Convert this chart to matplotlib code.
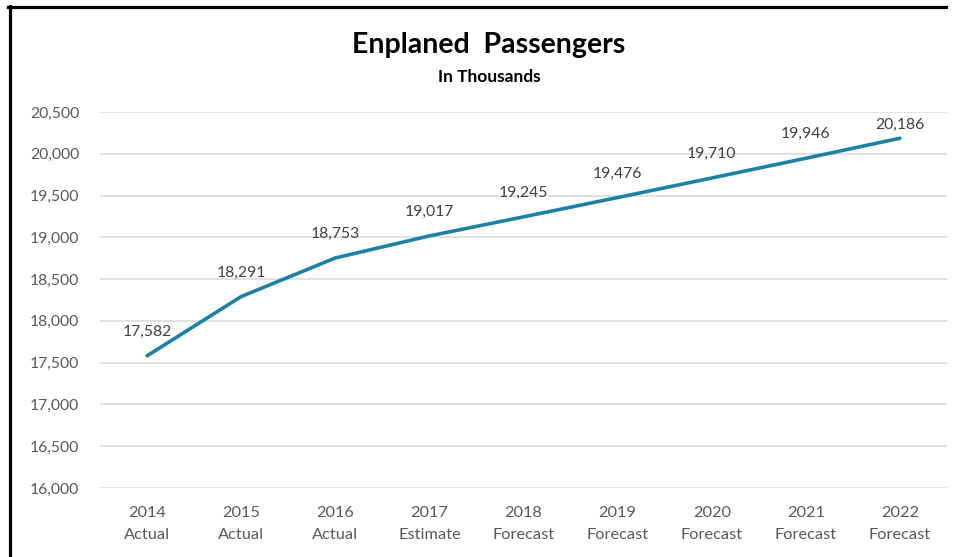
import matplotlib
matplotlib.use("Agg")
import matplotlib.pyplot as plt
from matplotlib.lines import Line2D

years = ["2014", "2015", "2016", "2017", "2018", "2019", "2020", "2021", "2022"]
kinds = ["Actual", "Actual", "Actual", "Estimate", "Forecast", "Forecast", "Forecast", "Forecast", "Forecast"]
passengers = [17582, 18291, 18753, 19017, 19245, 19476, 19710, 19946, 20186]
y_ticks = [16000, 16500, 17000, 17500, 18000, 18500, 19000, 19500, 20000, 20500]

plt.rcParams['font.family'] = ['Lato', 'DejaVu Sans']

W, H = 956, 557
fig = plt.figure(figsize=(W / 100, H / 100), dpi=100)
ax = fig.add_axes([100 / W, 1 - 488 / H, 847 / W, 376 / H])

x = list(range(len(years)))
ax.plot(x, passengers, color='#1B82A6', lw=2.6, solid_capstyle='round', zorder=3)

px_per_unit = 376 / 4500
offset = 24 / px_per_unit
top_cap = 20500 - 13 / px_per_unit
for xi, v in zip(x, passengers):
    ly = min(v + offset, top_cap)
    ax.text(xi, ly, f"{v:,}", ha='center', va='center', fontsize=11.3, color='#404040')

ax.set_xlim(-0.5, len(years) - 0.5)
ax.set_ylim(16000, 20500)
ax.set_yticks(y_ticks)
ax.set_yticklabels([f"{t:,}" for t in y_ticks], fontsize=11.3, color='#595959')
ax.set_xticks(x)
ax.set_xticklabels([f"{y}\n{k}" for y, k in zip(years, kinds)], fontsize=11.8,
                   color='#595959', linespacing=1.75)
ax.tick_params(axis='both', length=0)
ax.tick_params(axis='y', pad=15)
ax.tick_params(axis='x', pad=13)
ax.grid(axis='y', color='#D9D9D9', lw=1.1)
ax.set_axisbelow(True)
for s in ax.spines.values():
    s.set_visible(False)

fig.text(489 / W, 1 - 45 / H, "Enplaned  Passengers", ha='center', va='center',
         fontsize=20.5, fontweight='bold', color='black')
fig.text(489 / W, 1 - 77 / H, "In Thousands", ha='center', va='center',
         fontsize=12.5, fontweight='bold', color='black')

fig.add_artist(Line2D([8 / W, 946 / W], [1 - 6.5 / H, 1 - 6.5 / H], color='black', lw=2.3,
                      transform=fig.transFigure))
fig.add_artist(Line2D([9.5 / W, 9.5 / W], [1 - 5.5 / H, 0], color='black', lw=2.3,
                      transform=fig.transFigure))

fig.savefig("out.png", dpi=100)
